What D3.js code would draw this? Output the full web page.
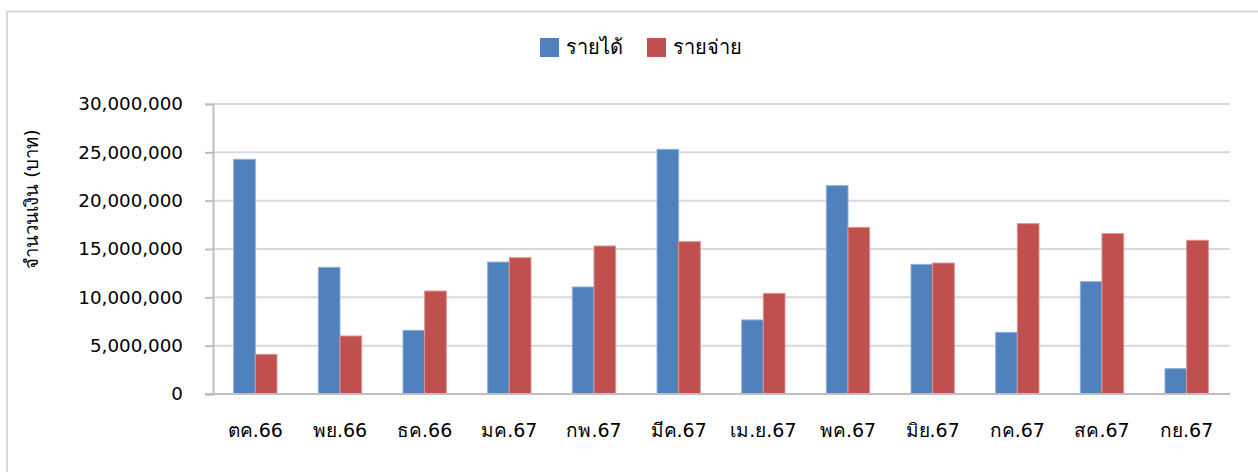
<!DOCTYPE html>
<html>
<head>
<meta charset="utf-8">
<script src="https://cdn.jsdelivr.net/npm/d3@7"></script>
<style>
  html, body { margin: 0; padding: 0; background: #fff; }
  svg { display: block; }
  text { font-family: Tahoma, "DejaVu Sans", "Noto Sans", sans-serif; fill: #000; }
</style>
</head>
<body>
<svg id="chart" width="1258" height="472"></svg>
<script>
// Monthly income and expense, fiscal year 2567
const months = ["ตค.66", "พย.66", "ธค.66", "มค.67", "กพ.67", "มีค.67", "เม.ย.67", "พค.67", "มิย.67", "กค.67", "สค.67", "กย.67"];
const income  = [24280000, 13100000, 6590000, 13650000, 11070000, 25310000, 7660000, 21550000, 13410000, 6380000, 11620000, 2620000];
const expense = [4100000, 6000000, 10650000, 14100000, 15310000, 15760000, 10410000, 17240000, 13550000, 17620000, 16590000, 15900000];
const seriesNames = ["รายได้", "รายจ่าย"];
const yTicks = [0, 5000000, 10000000, 15000000, 20000000, 25000000, 30000000];
const yTitle = "จำนวนเงิน (บาท)";

const colors = { "รายได้": "#4F81BD", "รายจ่าย": "#C0504D" };
const strokes = { "รายได้": "#8FB0DA", "รายจ่าย": "#DC9290" };

const svg = d3.select("#chart");

// chart frame
svg.append("path")
  .attr("d", "M7,472 V11.5 H1258")
  .attr("fill", "none")
  .attr("stroke", "#D9D9D9")
  .attr("stroke-width", 2);

const plot = { left: 213, right: 1229, top: 104, bottom: 394 };

const x = d3.scaleBand().domain(months).range([plot.left, plot.right]).padding(0);
const xInner = d3.scaleBand().domain(seriesNames).range([0, x.bandwidth()])
  .paddingInner(0).paddingOuter(0.955);
const y = d3.scaleLinear().domain([0, 30000000]).range([plot.bottom, plot.top]);

// gridlines
svg.append("g")
  .selectAll("line")
  .data(yTicks.filter(d => d > 0))
  .join("line")
  .attr("x1", plot.left).attr("x2", plot.right + 1)
  .attr("y1", d => y(d)).attr("y2", d => y(d))
  .attr("stroke", "#D9D9D9").attr("stroke-width", 2);

// y axis
const yAxis = svg.append("g")
  .attr("transform", `translate(${plot.left},0)`)
  .call(d3.axisLeft(y).tickValues(yTicks).tickSize(8).tickPadding(22)
    .tickFormat(d3.format(",")));
yAxis.select(".domain").attr("stroke", "#BFBFBF").attr("stroke-width", 2);
yAxis.selectAll(".tick line").attr("stroke", "#BFBFBF").attr("stroke-width", 2);
yAxis.selectAll(".tick text")
  .style("font-family", "'DejaVu Sans', sans-serif")
  .attr("font-size", 18.3).attr("fill", "#000");

// bars
const rows = months.map((m, i) => ({ month: m, values: [
  { key: seriesNames[0], value: income[i] },
  { key: seriesNames[1], value: expense[i] }
]}));

svg.append("g")
  .selectAll("g")
  .data(rows)
  .join("g")
  .attr("transform", d => `translate(${x(d.month)},0)`)
  .selectAll("rect")
  .data(d => d.values)
  .join("rect")
  .attr("x", d => xInner(d.key))
  .attr("width", xInner.bandwidth())
  .attr("y", d => y(d.value))
  .attr("height", d => y(0) - y(d.value))
  .attr("fill", d => colors[d.key])
  .attr("stroke", d => strokes[d.key])
  .attr("stroke-width", 1);

// x axis
const xAxis = svg.append("g")
  .attr("transform", `translate(0,${plot.bottom})`)
  .call(d3.axisBottom(x).tickSize(0).tickPadding(30));
xAxis.select(".domain")
  .attr("d", `M${plot.left - 8},0H${plot.right + 1}`)
  .attr("stroke", "#BFBFBF").attr("stroke-width", 2);
xAxis.selectAll(".tick text").attr("font-size", 19).attr("fill", "#000");

// y axis title
svg.append("text")
  .attr("transform", "translate(33,199) rotate(-90)")
  .attr("text-anchor", "middle")
  .attr("dominant-baseline", "middle")
  .attr("font-size", 18.5)
  .text(yTitle);

// legend
const legend = svg.append("g");
const legendItems = [
  { key: seriesNames[0], x: 540 },
  { key: seriesNames[1], x: 647 }
];
legend.selectAll("rect")
  .data(legendItems)
  .join("rect")
  .attr("x", d => d.x).attr("y", 38)
  .attr("width", 19).attr("height", 19)
  .attr("fill", d => colors[d.key]);
legend.selectAll("text")
  .data(legendItems)
  .join("text")
  .attr("x", d => d.x + 26).attr("y", 48)
  .attr("dominant-baseline", "middle")
  .attr("font-size", 20)
  .text(d => d.key);
</script>
</body>
</html>
